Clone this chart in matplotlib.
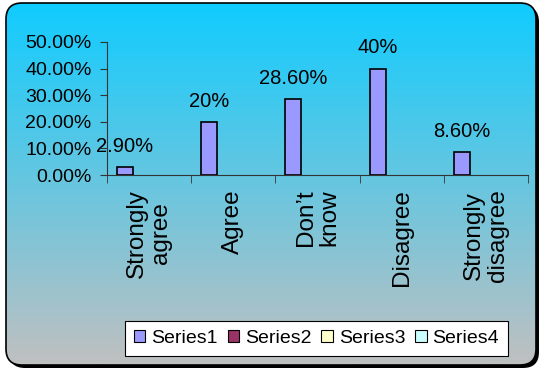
import matplotlib
matplotlib.use("Agg")
import matplotlib.pyplot as plt
from matplotlib.patches import FancyBboxPatch, Patch
import numpy as np

plt.rcParams.update({"font.family": ["Liberation Sans", "DejaVu Sans"]})

categories = ["Strongly\nagree", "Agree", "Don\u2019t\nknow", "Disagree", "Strongly\ndisagree"]
series1 = [0.029, 0.20, 0.286, 0.40, 0.086]
series1_labels = ["2.90%", "20%", "28.60%", "40%", "8.60%"]
series_names = ["Series1", "Series2", "Series3", "Series4"]
series_colors = ["#9999FF", "#993366", "#FFFFCC", "#CCFFFF"]
yticks = [0.0, 0.1, 0.2, 0.3, 0.4, 0.5]

W, H = 540, 372
fig = plt.figure(figsize=(W / 100, H / 100), dpi=100)

# background: rounded frame with gradient + shadow
bg = fig.add_axes([0, 0, 1, 1])
bg.set_xlim(0, W); bg.set_ylim(H, 0); bg.axis("off")
x0, y0, x1, y1 = 6, 3, 536, 365
bg.add_patch(FancyBboxPatch((x0 + 3, y0 + 3), x1 - x0, y1 - y0,
                            boxstyle="round,pad=0,rounding_size=16", fc="black", ec="none",
                            zorder=1))
frame = FancyBboxPatch((x0, y0), x1 - x0, y1 - y0,
                       boxstyle="round,pad=0,rounding_size=16", fc="none", ec="black", lw=1.2,
                       zorder=3)
top = np.array([16, 204, 255]) / 255
bot = np.array([192, 192, 192]) / 255
t = np.linspace(0, 1, 256)[:, None]
grad = (top[None, :] * (1 - t) + bot[None, :] * t)[:, None, :]
im = bg.imshow(grad, extent=(x0, x1, y1, y0), aspect="auto", interpolation="bilinear", zorder=2)
bg.add_patch(frame)
im.set_clip_path(frame)

# main chart
ax = fig.add_axes([107 / W, 1 - 175 / H, (528 - 107) / W, (175 - 42) / H])
ax.patch.set_alpha(0)
x = np.arange(len(categories))
bw = 0.19
bars = ax.bar(x - 0.286, series1, width=bw, color=series_colors[0], edgecolor="black", lw=1.2,
              zorder=3)
ax.bar_label(bars, labels=series1_labels, padding=8, fontsize=14.5)

ax.set_xlim(-0.5, len(categories) - 0.5)
ax.set_ylim(0, 0.5)
ax.set_yticks(yticks)
ax.set_yticklabels([f"{v * 100:.2f}%" for v in yticks], fontsize=14)
ax.set_xticks(x)
ax.set_xticklabels(categories, rotation=90, fontsize=17.5, linespacing=1.1)
ax.set_xticks(np.arange(len(categories) + 1) - 0.5, minor=True)
ax.tick_params(axis="x", which="major", length=0, pad=10)
ax.tick_params(axis="x", which="minor", length=5.5, direction="out", color="#333333")
ax.tick_params(axis="y", length=5, direction="out", pad=6, color="#333333")
for s in ["top", "right"]:
    ax.spines[s].set_visible(False)
for s in ["left", "bottom"]:
    ax.spines[s].set_color("#333333")

handles = [Patch(fc=c, ec="black", lw=0.8) for c in series_colors]
leg = fig.legend(handles, series_names, loc="center", bbox_to_anchor=(0.586, 0.09), ncol=4,
                 fontsize=14, frameon=True, fancybox=False, edgecolor="black", framealpha=1,
                 handlelength=0.6, handleheight=0.6, handletextpad=0.3, columnspacing=0.5,
                 borderpad=0.45)
leg.get_frame().set_linewidth(0.8)

fig.savefig("out.png", dpi=100)
